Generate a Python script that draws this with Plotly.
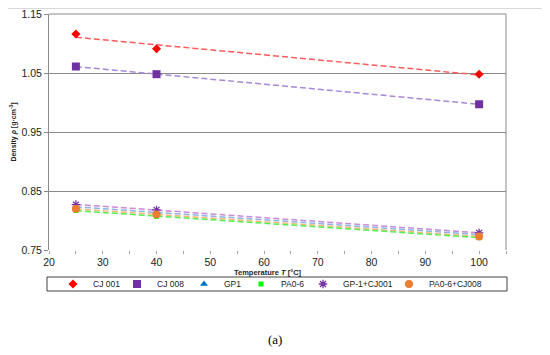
import numpy as np
import plotly.graph_objects as go

temperature = [25, 40, 100]
series_names = ["CJ 001", "CJ 008", "GP1", "PA0-6", "GP-1+CJ001", "PA0-6+CJ008"]
cj001 = [1.116, 1.091, 1.048]
cj008 = [1.061, 1.048, 0.997]
gp1 = [0.823, 0.814, 0.776]
pa06 = [0.817, 0.807, 0.771]
gp1_cj001 = [0.827, 0.818, 0.779]
pa06_cj008 = [0.820, 0.810, 0.773]
x_ticks = [20, 30, 40, 50, 60, 70, 80, 90, 100]
y_ticks = [0.75, 0.85, 0.95, 1.05, 1.15]

values = [cj001, cj008, gp1, pa06, gp1_cj001, pa06_cj008]
marker_colors = ["#ff0000", "#7030a0", "#0070c0", "#00ff00", "#7030a0", "#ed7d31"]
line_colors = ["#ff5a5a", "#a888d8", "#8db4e2", "#55ee55", "#c98ad8", "#f8b878"]
symbols = ["diamond", "square", "triangle-up", "square", "asterisk-open", "circle"]
sizes = [7, 8, 7, 5, 7, 8]

# page offset of the figure (default body margin of the html page)
OFF = 8
W, H = 534, 339
ML, MT, PW, PH = 41, 6, 457, 236
def cx(px):
    return (px - OFF) / W
def cy(py):
    return 1 - (py - OFF) / H
def px_paper(px):
    return (px - OFF - ML) / PW
def py_paper(py):
    return (MT + PH - (py - OFF)) / PH

legend_left_px = [53, 117, 184, 241, 303, 389]

fig = go.Figure()
xs = np.array(temperature, dtype=float)
line_x = np.array([25.0, 100.0])
draw_order = [0, 1, 4, 2, 5, 3]
for i in draw_order:
    k, b = np.polyfit(xs, np.array(values[i]), 1)
    fig.add_trace(go.Scatter(
        x=line_x, y=k * line_x + b, mode="lines",
        line=dict(color=line_colors[i], width=1.5, dash="6px,3px"),
        showlegend=False, hoverinfo="skip"))

legend_layouts = {}
for i, name in enumerate(series_names):
    mk = dict(color=marker_colors[i], size=sizes[i], symbol=symbols[i])
    if symbols[i] == "asterisk-open":
        mk["line"] = dict(color=marker_colors[i], width=1.3)
    lg = "legend" if i == 0 else f"legend{i + 1}"
    fig.add_trace(go.Scatter(
        x=temperature, y=values[i], mode="markers", name=name, marker=mk,
        legend=lg))
    legend_layouts[lg] = dict(
        orientation="h", xref="container", yref="container",
        x=cx(legend_left_px[i]), y=cy(284), xanchor="left", yanchor="middle",
        font=dict(size=8.5, color="#222222"), itemwidth=30,
        bgcolor="rgba(0,0,0,0)", borderwidth=0)

fig.update_layout(
    width=W, height=H,
    margin=dict(l=ML, r=W - ML - PW, t=MT, b=H - MT - PH, autoexpand=False),
    paper_bgcolor="white", plot_bgcolor="white",
    font=dict(family="Liberation Sans, Arial, sans-serif", size=10.5, color="#222222"),
    showlegend=True,
    xaxis=dict(range=[20, 105], tickvals=x_ticks, showgrid=False, zeroline=False,
               showline=False, ticks="outside", ticklen=2, tickcolor="#a0a0a0",
               minor=dict(dtick=5, tick0=20, ticks="outside", ticklen=3, tickcolor="#a0a0a0"),
               tickfont=dict(size=10.5, color="#222222"), automargin=False,
               ticklabeloverflow="allow"),
    yaxis=dict(range=[0.75, 1.15], tickvals=y_ticks, tickformat=".2f",
               showgrid=True, gridcolor="#8a8a8a", gridwidth=1, zeroline=False,
               showline=True, linecolor="#8a8a8a", linewidth=1,
               ticks="outside", ticklen=4, tickcolor="#8a8a8a", automargin=False,
               ticklabeloverflow="allow",
               tickfont=dict(size=10.5, color="#222222"),
               title=dict(text="<b>Density <i>ρ</i> [g·cm<sup>-3</sup>]</b>", font=dict(size=7), standoff=4)),
    shapes=[
        dict(type="line", xref="paper", yref="paper", x0=0, x1=1, y0=1, y1=1,
             line=dict(color="#8a8a8a", width=1)),
        dict(type="line", xref="paper", yref="paper", x0=1, x1=1, y0=0, y1=1,
             line=dict(color="#8a8a8a", width=1)),
        dict(type="line", xref="paper", yref="paper", x0=px_paper(8), x1=px_paper(542),
             y0=py_paper(8.5), y1=py_paper(8.5),
             line=dict(color="#d9d9d9", width=1)),
        dict(type="rect", xref="paper", yref="paper", x0=px_paper(47), x1=px_paper(507),
             y0=py_paper(277), y1=py_paper(291),
             line=dict(color="#404040", width=1)),
    ],
    annotations=[
        dict(text="<b>Temperature <i>T</i> [°C]</b>", xref="paper", yref="paper",
             x=px_paper(268), y=py_paper(272.5), xanchor="center", yanchor="middle",
             showarrow=False, font=dict(size=7.5, color="#222222")),
        dict(text="(a)", xref="paper", yref="paper", x=px_paper(275), y=py_paper(340),
             xanchor="center", yanchor="middle", showarrow=False,
             font=dict(family="Liberation Serif, serif", size=13, color="#000000")),
    ],
    **legend_layouts,
)
fig.write_html("out.html")
